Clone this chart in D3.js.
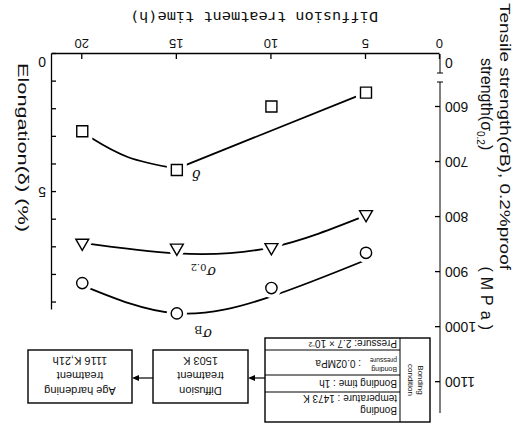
<!DOCTYPE html>
<html>
<head>
<meta charset="utf-8">
<script src="https://cdn.jsdelivr.net/npm/d3@7"></script>
<style>
  body { margin: 0; background: #fff; }
  svg { display: block; }
  text { fill: #111; }
</style>
</head>
<body>
<div id="chart"></div>
<script>
// Datos (la figura esta girada 180 grados)
const hours = [20, 15, 10, 5]
const sigmaB = [920, 975, 929, 865]      // circulos, MPa
const sigma02 = [847, 856, 855, 795]     // triangulos, MPa
const delta = [2.8, 4.2, 1.9, 1.4]       // cuadrados, %

// Curvas de ajuste dibujadas en la figura
const fitBHours = [20, 15, 10, 5]
const fitB = [924, 975, 944, 878]
const fit02Hours = [20, 15, 10, 5]
const fit02 = [847, 866, 855, 797]
const fitDeltaHoursA = [20, 19.5, 17.6, 15]
const fitDeltaA = [2.85, 3.05, 3.73, 4.15]
const fitDeltaHoursB = [15, 5]
const fitDeltaB = [4.15, 1.4]

// Ticks
const timeTicks = [0, 5, 10, 15, 20]
const tensileTicks = [600, 700, 800, 900, 1000, 1100]
const elongTicks = [0, 1, 2, 3, 4, 5, 6, 7, 8, 9]
const elongLabels = [0, 5]
const tensileBreakLabel = "0"

// Diagrama de proceso
const bondingRows = [
  ["Bonding", "temperature : 1473 K"],
  ["Bonding time : 1h"],
  [": 0.02MPa"],
  ["Pressure: 2.7 × 10⁻²"]
]
const diffusionBox = ["Diffusion", "treatment", "1503 K"]
const ageBox = ["Age hardening", "treatment", "1116 K,21h"]

const W = 521, H = 431
const svg = d3.select("#chart").append("svg")
  .attr("width", W).attr("height", H)
svg.append("rect").attr("width", W).attr("height", H).attr("fill", "#fff")

// todo el dibujo va girado 180 grados como en la imagen original
const g = svg.append("g").attr("transform", `rotate(180, ${W / 2}, ${H / 2})`)

// Escalas
const x = d3.scaleLinear().domain([0, 5, 21.6]).range([81, 155, 469])
const yT = d3.scaleLinear().domain([600, 1156]).range([324, 18])
const yE = d3.scaleLinear().domain([0, 9.27]).range([377, 121])

const tickFont = "'Liberation Sans Narrow', 'Liberation Sans', Arial, sans-serif"
const titleFont = "'Liberation Sans', Arial, sans-serif"

// Eje X (tiempo)
const axX = g.append("g")
  .attr("transform", `translate(0, ${yE(0)})`)
  .call(d3.axisBottom(x).tickValues(timeTicks).tickSizeInner(-5).tickSizeOuter(0).tickPadding(6))
axX.selectAll("text").attr("font-size", 13).attr("font-family", tickFont)

// Eje izquierdo (resistencia), con corte
const axT = g.append("g")
  .attr("transform", `translate(${x(0)}, 0)`)
  .call(d3.axisLeft(yT).tickValues(tensileTicks).tickFormat(d3.format("d"))
    .tickSizeInner(-5).tickSizeOuter(0).tickPadding(5))
axT.select(".domain").remove()
axT.selectAll("text").attr("font-size", 14).attr("font-family", tickFont)
axT.append("path").attr("d", `M0,${yE(0)}V358M-3,358H3M-3,349H3M0,349V${yT.range()[1]}`)
  .attr("stroke", "#000").attr("fill", "none")
axT.append("text").text(tensileBreakLabel)
  .attr("x", -5).attr("y", yE(0) - 8).attr("dy", "0.32em")
  .attr("text-anchor", "end").attr("font-size", 14).attr("font-family", tickFont)

// Eje derecho (alargamiento)
const axE = g.append("g")
  .attr("transform", `translate(${x.range()[2]}, 0)`)
  .call(d3.axisRight(yE).tickValues(elongTicks).tickSizeInner(-4).tickSizeOuter(0).tickPadding(6)
    .tickFormat(d => elongLabels.includes(d) ? d : ""))
axE.selectAll("text").attr("font-size", 14).attr("font-family", tickFont)
axE.selectAll(".tick text").filter(d => d === 0).attr("transform", "translate(0,-8)")

g.selectAll(".domain, .tick line").attr("stroke", "#000").attr("stroke-width", 1.3)

// Titulos
g.append("text").text("Diffusion treatment time(h)")
  .attr("x", 267).attr("y", 414).attr("dy", "0.35em").attr("text-anchor", "middle")
  .attr("font-family", "'DejaVu Sans Mono', monospace").attr("font-size", 14)
  .attr("textLength", 248).attr("lengthAdjust", "spacingAndGlyphs")

g.append("text")
  .attr("transform", "translate(16, 428) rotate(-90)").attr("dy", "0.35em")
  .attr("font-family", titleFont).attr("font-size", 15)
  .attr("textLength", 267).attr("lengthAdjust", "spacingAndGlyphs")
  .text("Tensile strength(σB), 0.2%proof")

const t2 = g.append("g").attr("transform", "translate(34, 373) rotate(-90)")
  .attr("font-family", titleFont).attr("font-size", 16)
const t2a = t2.append("text").attr("dy", "0.35em")
t2a.append("tspan").text("strength(σ")
t2a.append("tspan").text("0.2").attr("font-size", 10).attr("dy", 4)
t2a.append("tspan").text(")").attr("dy", -4)
t2.append("text").text("(MPa)").attr("x", 277).attr("dy", "0.35em")
  .attr("text-anchor", "end").attr("letter-spacing", 5)

g.append("text").text("Elongation(δ) (%)")
  .attr("transform", "translate(498, 368) rotate(-90)").attr("dy", "0.35em")
  .attr("font-family", titleFont).attr("font-size", 15)
  .attr("textLength", 169).attr("lengthAdjust", "spacingAndGlyphs")

// Curvas
const curveLine = (xs, ys, scaleY) => d3.line()
  .x((d, i) => x(xs[i])).y(d => scaleY(d))
  .curve(d3.curveNatural)(ys)

const lines = [
  [fitBHours, fitB, yT],
  [fit02Hours, fit02, yT],
  [fitDeltaHoursA, fitDeltaA, yE],
  [fitDeltaHoursB, fitDeltaB, yE]
]
lines.forEach(([xs, ys, sc]) => {
  g.append("path").attr("d", curveLine(xs, ys, sc))
    .attr("fill", "none").attr("stroke", "#000").attr("stroke-width", 1.8)
})

// Marcadores con halo blanco
const series = [
  {vals: sigmaB, scale: yT, type: d3.symbolCircle, size: 100},
  {vals: sigma02, scale: yT, type: d3.symbolTriangle, size: 72},
  {vals: delta, scale: yE, type: d3.symbolSquare, size: 121}
]
series.forEach(s => {
  const sym = d3.symbol().type(s.type).size(s.size)
  const gg = g.append("g")
  gg.selectAll("path.halo").data(s.vals).join("path").attr("class", "halo")
    .attr("transform", (d, i) => `translate(${x(hours[i])}, ${s.scale(d)})`)
    .attr("d", sym).attr("fill", "#fff").attr("stroke", "#fff").attr("stroke-width", 9)
  gg.selectAll("path.mk").data(s.vals).join("path").attr("class", "mk")
    .attr("transform", (d, i) => `translate(${x(hours[i])}, ${s.scale(d)})`)
    .attr("d", sym).attr("fill", "#fff").attr("stroke", "#000").attr("stroke-width", 1.4)
})

// Etiquetas de curvas
const lblFont = "'DejaVu Serif', 'Liberation Serif', serif"
g.append("text").text("δ").attr("x", 325).attr("y", 256).attr("dy", "0.35em")
  .attr("text-anchor", "middle").attr("font-style", "italic").attr("font-size", 14).attr("font-family", lblFont)
const l02 = g.append("text").attr("x", 305).attr("y", 159).attr("dy", "0.35em")
  .attr("font-size", 14).attr("font-family", lblFont)
l02.append("tspan").text("σ").attr("font-style", "italic")
l02.append("tspan").text("0.2").attr("font-size", 10).attr("dy", 3)
const lB = g.append("text").attr("x", 309).attr("y", 97).attr("dy", "0.35em")
  .attr("font-size", 14).attr("font-family", lblFont)
lB.append("tspan").text("σ").attr("font-style", "italic")
lB.append("tspan").text("B").attr("font-size", 11).attr("dy", 3)

// Diagrama de proceso
const flow = g.append("g").attr("font-family", titleFont).attr("fill", "#222")
const rectStyle = sel => sel.attr("fill", "#fff").attr("stroke", "#000").attr("stroke-width", 1.4)

flow.append("rect").attr("x", 91).attr("y", 9).attr("width", 165).attr("height", 84).call(rectStyle)
flow.append("path").attr("d", "M121,9V93M121,39H256M121,56H256M121,81H256")
  .attr("stroke", "#000").attr("stroke-width", 1)
const cond = flow.append("text").attr("transform", "translate(103, 51) rotate(-90)")
  .attr("text-anchor", "middle").attr("font-size", 8)
cond.append("tspan").text("Bonding").attr("x", 0).attr("dy", 0)
cond.append("tspan").text("condition").attr("x", 0).attr("dy", 10)

const rowY = [[21, 33], [48], [68], [88]]
const rowX = [124, 124, 160, 124]
bondingRows.forEach((r, i) => {
  r.forEach((t, j) => {
    flow.append("text").text(t).attr("x", rowX[i]).attr("y", rowY[i][j]).attr("dy", "0.35em")
      .attr("font-size", 10)
  })
})
const bp = flow.append("text").attr("font-size", 7)
bp.append("tspan").text("Bonding").attr("x", 124).attr("y", 64)
bp.append("tspan").text("pressure").attr("x", 124).attr("y", 73)

flow.append("rect").attr("x", 273).attr("y", 28).attr("width", 95).attr("height", 53).call(rectStyle)
flow.append("rect").attr("x", 389).attr("y", 28).attr("width", 104).attr("height", 53).call(rectStyle)
;[[diffusionBox, 320.5], [ageBox, 441]].forEach(([lines, cx]) => {
  lines.forEach((t, i) => {
    flow.append("text").text(t).attr("x", cx).attr("y", 40 + i * 15).attr("dy", "0.35em")
      .attr("text-anchor", "middle").attr("font-size", 11)
  })
})
// flechas
const arrow = (x0, x1, yy) => {
  flow.append("path").attr("d", `M${x0},${yy}H${x1 - 5}`).attr("stroke", "#000").attr("stroke-width", 1.2)
  flow.append("path").attr("d", `M${x1},${yy}L${x1 - 7},${yy - 3}L${x1 - 7},${yy + 3}Z`).attr("fill", "#000")
}
arrow(256, 273, 53)
arrow(368, 389, 53)
</script>
</body>
</html>
